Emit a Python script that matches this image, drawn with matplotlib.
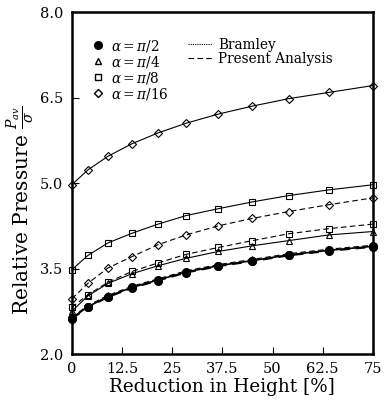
import matplotlib.pyplot as plt
from matplotlib.lines import Line2D

# reduction in height (%) at the computed points
reduction = [0, 4, 9, 15, 21.5, 28.5, 36.5, 45, 54, 64, 75]

# Bramley (solid lines)
bram_pi2 = [2.63, 2.83, 3.01, 3.17, 3.30, 3.44, 3.55, 3.64, 3.74, 3.82, 3.89]
bram_pi4 = [2.75, 3.02, 3.24, 3.41, 3.55, 3.68, 3.80, 3.90, 3.99, 4.09, 4.15]
bram_pi8 = [3.48, 3.73, 3.95, 4.12, 4.28, 4.43, 4.55, 4.67, 4.78, 4.88, 4.97]
bram_pi16 = [4.97, 5.23, 5.47, 5.69, 5.88, 6.05, 6.21, 6.35, 6.48, 6.59, 6.71]

# Present analysis (dashed lines)
pres_pi2 = [2.62, 2.82, 3.00, 3.16, 3.29, 3.43, 3.54, 3.63, 3.73, 3.81, 3.88]
pres_pi4 = [2.65, 2.85, 3.03, 3.19, 3.32, 3.46, 3.57, 3.66, 3.76, 3.84, 3.91]
pres_pi8 = [2.82, 3.04, 3.26, 3.45, 3.60, 3.75, 3.87, 3.99, 4.11, 4.20, 4.28]
pres_pi16 = [2.97, 3.24, 3.51, 3.71, 3.92, 4.09, 4.25, 4.38, 4.50, 4.62, 4.74]

xticks = [0, 12.5, 25, 37.5, 50, 62.5, 75]
xticklabels = ['0', '12.5', '25', '37.5', '50', '62.5', '75']
yticks = [2.0, 3.5, 5.0, 6.5, 8.0]

plt.rcParams['font.family'] = 'DejaVu Serif'
plt.rcParams['mathtext.fontset'] = 'dejavuserif'

fig = plt.figure(figsize=(3.84, 4.01), dpi=100)
ax = fig.add_axes([0.187, 0.117, 0.784, 0.853])

dash = (0, (5, 3))
mk = dict(markersize=4.5, markeredgewidth=0.8, clip_on=False)

# open markers
ax.plot(reduction, bram_pi16, '-', color='k', lw=0.8, marker='D', markersize=4,
        markeredgewidth=0.8, mfc='none', mec='k', clip_on=False)
ax.plot(reduction, pres_pi16, color='k', lw=0.8, ls=dash, marker='D', markersize=4,
        markeredgewidth=0.8, mfc='none', mec='k', clip_on=False)
ax.plot(reduction, bram_pi8, '-', color='k', lw=0.8, marker='s', mfc='none', mec='k', **mk)
ax.plot(reduction, pres_pi8, color='k', lw=0.8, ls=dash, marker='s', mfc='none', mec='k', **mk)
ax.plot(reduction, bram_pi4, '-', color='k', lw=0.8, marker='^', mfc='none', mec='k', **mk)
ax.plot(reduction, pres_pi4, color='k', lw=0.8, ls=dash, marker='^', mfc='none', mec='k', **mk)
# filled circles
ax.plot(reduction, bram_pi2, '-', color='k', lw=1.2, marker='o', markersize=5.5, clip_on=False)
ax.plot(reduction, pres_pi2, color='k', lw=1.4, ls=dash, marker='o', markersize=5.5, clip_on=False)

ax.set_xlim(0, 75)
ax.set_ylim(2.0, 8.0)
ax.set_xticks(xticks)
ax.set_xticklabels(xticklabels)
ax.set_yticks(yticks)
ax.set_yticklabels(['%.1f' % v for v in yticks])
ax.tick_params(direction='in', length=5, width=0.8, labelsize=10.5, pad=6)

for s in ax.spines.values():
    s.set_linewidth(1.8)

ax.set_xlabel('Reduction in Height [%]', fontsize=13.2, labelpad=1)
ax.set_ylabel(r'Relative Pressure $\frac{P_{av}}{\sigma}$', fontsize=14.5)
ax.yaxis.set_label_coords(-0.12, 0.42)

marker_handles = [
    Line2D([], [], ls='none', marker='o', color='k', markersize=5.5),
    Line2D([], [], ls='none', marker='^', mfc='none', mec='k', markersize=4.5),
    Line2D([], [], ls='none', marker='s', mfc='none', mec='k', markersize=4.5),
    Line2D([], [], ls='none', marker='D', mfc='none', mec='k', markersize=4),
]
marker_labels = [r'$\alpha=\pi/2$', r'$\alpha=\pi/4$', r'$\alpha=\pi/8$', r'$\alpha=\pi/16$']
leg1 = ax.legend(marker_handles, marker_labels, loc='upper left', bbox_to_anchor=(0.045, 0.945),
                 frameon=False, fontsize=9.8, handlelength=0.8, handletextpad=0.6,
                 labelspacing=0.0, borderpad=0)
ax.add_artist(leg1)

line_handles = [
    Line2D([], [], color='k', lw=0.8, ls=(0, (1, 1))),
    Line2D([], [], color='k', lw=0.8, ls=dash),
]
ax.legend(line_handles, ['Bramley', 'Present Analysis'], loc='upper left',
          bbox_to_anchor=(0.365, 0.945), frameon=False, fontsize=9.8,
          handlelength=1.7, handletextpad=0.5, labelspacing=0.0, borderpad=0)

fig.savefig('out.png', dpi=100)
